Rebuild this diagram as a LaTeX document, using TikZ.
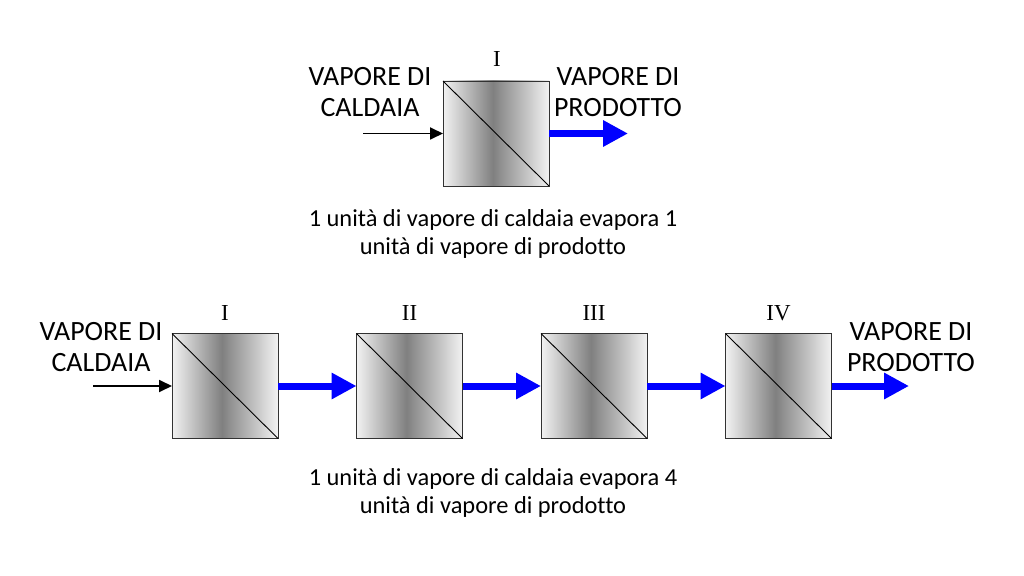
\documentclass[tikz,border=0pt]{standalone}
\usepackage{fontspec}
\setmainfont[Ligatures={NoCommon}]{Carlito}
\newfontfamily\romfont{Liberation Serif}
\usetikzlibrary{arrows.meta}
\definecolor{boxlight}{RGB}{242,242,242}
\definecolor{boxdark}{RGB}{128,128,128}
\definecolor{boxedge}{RGB}{50,50,50}
\definecolor{flowblue}{RGB}{0,0,255}
\pgfdeclarehorizontalshading{evapshade}{100bp}{color(0bp)=(boxlight); color(25bp)=(boxlight); color(48.5bp)=(boxdark); color(75bp)=(boxlight); color(100bp)=(boxlight)}
\tikzset{
  evap/.style={draw=boxedge, line width=0.9bp, shading=evapshade, minimum width=106bp, minimum height=105bp, inner sep=0pt, outer sep=0pt},
  streamlbl/.style={font=\fontsize{28}{32}\selectfont, align=center, inner sep=0pt},
  notelbl/.style={font=\fontsize{24.5}{29}\selectfont, align=center, inner sep=0pt},
  romlbl/.style={font=\romfont\fontsize{23}{26}\selectfont, inner sep=0pt},
  feedarrow/.style={line width=1.8bp, -{Triangle[length=13bp,width=12bp]}},
  prodarrow/.style={draw=flowblue, line width=7bp, -{Triangle[length=25bp,width=25bp]}, fill=flowblue},
}
\begin{document}
\begin{tikzpicture}[x=1bp,y=-1bp]
\useasboundingbox (0,0) rectangle (1024,576);
% top single effect
\node[evap] (t1) at (496,133.5) {};
\draw[line width=0.9bp] (t1.north west) -- (t1.south east);
\node[romlbl] (tl1) at (497,59) {I};
\node[streamlbl] (tin) at (370,92) {VAPORE DI\\CALDAIA};
\node[streamlbl] (tout) at (618,92) {VAPORE DI\\PRODOTTO};
\coordinate (tsrc) at (363,133.5);
\coordinate (tdst) at (628,133.5);
\draw[feedarrow] (tsrc) -- (t1.west);
\draw[prodarrow] (t1.east) -- (tdst);
\node[notelbl] (tnote) at (493,234) {1 unità di vapore di caldaia evapora 1\\unità di vapore di prodotto};
% bottom four effects
\node[evap] (b1) at (225,386) {};
\node[evap] (b2) at (409.5,386) {};
\node[evap] (b3) at (594,386) {};
\node[evap] (b4) at (778.5,386) {};
\foreach \b in {b1,b2,b3,b4}{\draw[line width=0.9bp] (\b.north west) -- (\b.south east);}
\node[romlbl] (bl1) at (225,313) {I};
\node[romlbl] (bl2) at (409.5,313) {II};
\node[romlbl] (bl3) at (594,313) {III};
\node[romlbl] (bl4) at (778.5,313) {IV};
\node[streamlbl] (bin) at (101,347) {VAPORE DI\\CALDAIA};
\node[streamlbl] (bout) at (911,347) {VAPORE DI\\PRODOTTO};
\coordinate (bsrc) at (93,386);
\coordinate (bdst) at (909,386);
\draw[feedarrow] (bsrc) -- (b1.west);
\draw[prodarrow] (b1.east) -- (b2.west);
\draw[prodarrow] (b2.east) -- (b3.west);
\draw[prodarrow] (b3.east) -- (b4.west);
\draw[prodarrow] (b4.east) -- (bdst);
\node[notelbl] (bnote) at (493,493) {1 unità di vapore di caldaia evapora 4\\unità di vapore di prodotto};
\end{tikzpicture}
\end{document}
